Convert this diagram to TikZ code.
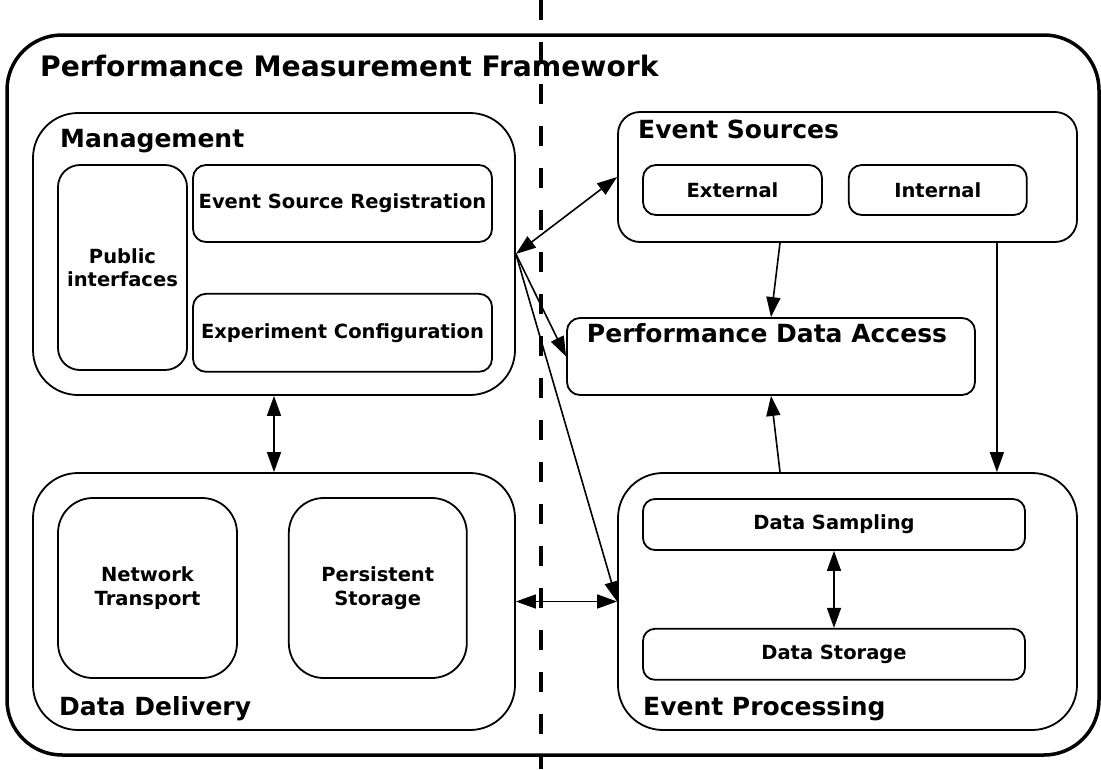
\documentclass[tikz,border=0pt]{standalone}
\usepackage{fontspec}
\setmainfont{DejaVu Sans}
\usetikzlibrary{positioning, arrows.meta, calc}

\begin{document}
\begin{tikzpicture}[
    x=1pt, y=-1pt,
    >={Triangle[length=20pt, width=14pt]},
    frame/.style={draw, line width=3.5pt, rounded corners=55pt, inner sep=0pt,
                  minimum width=1092pt, minimum height=720pt},
    group/.style={draw, line width=1.8pt, rounded corners=45pt, inner sep=0pt},
    part/.style={draw, line width=1.8pt, rounded corners=13pt, inner sep=0pt,
                 align=center, font=\fontsize{19.5}{23.5}\selectfont\bfseries},
    head/.style={anchor=base west, inner sep=0pt,
                 font=\fontsize{25}{30}\selectfont\bfseries},
    link/.style={<->, line width=1.6pt},
    flow/.style={->, line width=1.6pt},
    divider/.style={line width=4pt, dash pattern=on 20pt off 22pt}
]
\useasboundingbox (0,0) rectangle (1101,769);

%---------------- Outer frame ----------------
\node[frame] (fw) at (553,395) {};
\node[head, font=\fontsize{28.2}{34}\selectfont\bfseries] (fwlabel) at (40,76)
    {Performance Measurement Framework};

%---------------- Management ----------------
\node[group, minimum width=482pt, minimum height=282pt] (mgmt) at (274,254) {};
\node[head] (mgmtlabel) at (60,147) {Management};
\node[part, rounded corners=22pt, minimum width=129pt, minimum height=205pt]
    (pub) at (122.5,267.5) {Public\\interfaces};
\node[part, minimum width=299pt, minimum height=77pt] (esr) at (342.5,203.5)
    {Event Source Registration};
\node[part, minimum width=299pt, minimum height=78pt, below=50pt of esr] (conf)
    {Experiment Configuration};

%---------------- Data Delivery ----------------
\node[group, minimum width=482pt, minimum height=257pt] (dd) at (274,601.5) {};
\node[head] (ddlabel) at (59,715) {Data Delivery};
\node[part, rounded corners=35pt, minimum width=179pt, minimum height=180pt]
    (net) at (147.5,588) {Network\\Transport};
\node[part, rounded corners=35pt, minimum width=178pt, minimum height=180pt,
      right=50pt of net] (pers) {Persistent\\Storage};

%---------------- Event Sources ----------------
\node[group, rounded corners=22pt, minimum width=459pt, minimum height=130pt]
    (es) at (847.5,177) {};
\node[head] (eslabel) at (638,138) {Event Sources};
\node[part, minimum width=179pt, minimum height=50pt] (ext) at (732.5,190) {External};
\node[part, minimum width=178pt, minimum height=50pt, right=25pt of ext] (int) {Internal};

%---------------- Performance Data Access ----------------
\node[part, minimum width=408pt, minimum height=77pt] (pda) at (771,356.5) {};
\node[head, anchor=base] (pdalabel) at (767,342) {Performance Data Access};

%---------------- Event Processing ----------------
\node[group, minimum width=459pt, minimum height=257pt] (ep) at (847.5,601.5) {};
\node[head] (eplabel) at (643,715) {Event Processing};
\node[part, rounded corners=12pt, minimum width=382pt, minimum height=51pt]
    (samp) at (834,524.5) {Data Sampling};
\node[part, rounded corners=12pt, minimum width=382pt, minimum height=51pt,
      below=77pt of samp] (stor) {Data Storage};

%---------------- Connections ----------------
\draw[link] (mgmt.east) -- (es.west);
\draw[flow] (mgmt.east) -- (pda.west);
\draw[flow] (mgmt.east) -- (ep.west);
\draw[link] (dd.east) -- (ep.west);
\draw[link] (mgmt.south) -- (dd.north);
\draw[link] (samp.south) -- (stor.north);
\draw[flow] ([xshift=9pt]es.south -| pda.north) -- (pda.north);
\draw[flow] ([xshift=9pt]ep.north -| pda.south) -- (pda.south);
\draw[flow] ([xshift=-81pt]es.south east) -- ([xshift=-81pt]ep.north east);

%---------------- Divider ----------------
\coordinate (top) at (541,0);
\coordinate (bottom) at (541,769);
\draw[divider] (top) -- (bottom);

\end{tikzpicture}
\end{document}
